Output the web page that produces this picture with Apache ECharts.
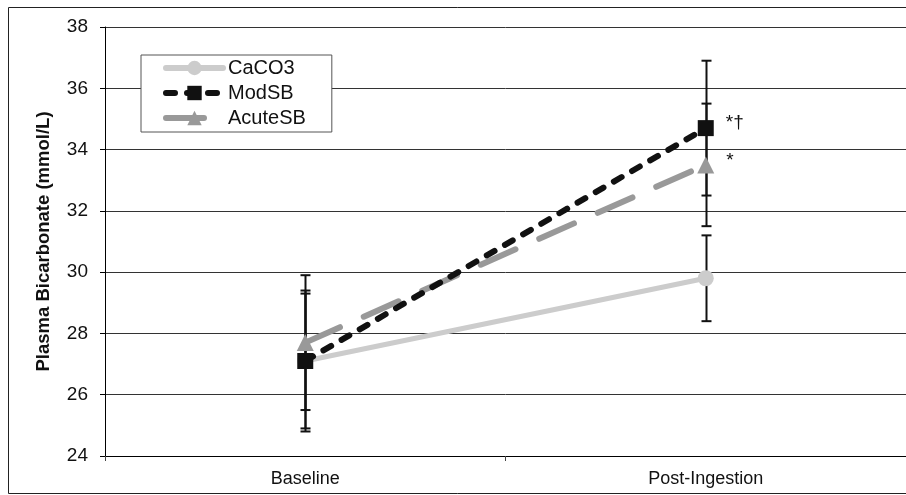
<!DOCTYPE html>
<html>
<head>
<meta charset="utf-8">
<script src="https://cdn.jsdelivr.net/npm/echarts@6/dist/echarts.min.js"></script>
<style>html,body{margin:0;padding:0;background:#fff}#c{width:906px;height:495px}</style>
</head>
<body>
<div id="c"></div>
<script>
var categories = ['Baseline', 'Post-Ingestion'];
var yTicks = [24, 26, 28, 30, 32, 34, 36, 38];
var caco3 = [27.1, 29.8];
var caco3Err = [2.3, 1.4];
var modsb = [27.1, 34.7];
var modsbErr = [2.2, 2.2];
var acutesb = [27.7, 33.5];
var acutesbErr = [2.2, 2.0];
var modsbMark = ['', '*\u2020'];
var acutesbMark = ['', '*'];

var FONT = 'Liberation Sans, Arial, sans-serif';
var chart = echarts.init(document.getElementById('c'), null, {renderer: 'canvas'});

function errSeries(name, vals, errs) {
  var data = vals.map(function (v, i) { return [i, v - errs[i], v + errs[i]]; });
  return {
    type: 'custom',
    name: name + '_err',
    z: 1,
    silent: true,
    data: data,
    encode: {x: 0, y: [1, 2]},
    renderItem: function (params, api) {
      var lo = api.coord([api.value(0), api.value(1)]);
      var hi = api.coord([api.value(0), api.value(2)]);
      var x = Math.round(lo[0]) + 0.5;
      var w = 5;
      var st = {stroke: '#111', lineWidth: 2};
      return {
        type: 'group',
        children: [
          {type: 'line', shape: {x1: x, y1: lo[1], x2: x, y2: hi[1]}, style: st},
          {type: 'line', shape: {x1: x - w, y1: lo[1], x2: x + w, y2: lo[1]}, style: st},
          {type: 'line', shape: {x1: x - w, y1: hi[1], x2: x + w, y2: hi[1]}, style: st}
        ]
      };
    }
  };
}

function markData(vals, marks, dy) {
  return vals.map(function (v, i) {
    if (!marks[i]) return v;
    return {value: v, label: {show: true, formatter: marks[i], position: 'right', distance: 12,
      offset: [0, dy], color: '#111', fontSize: 19, fontFamily: FONT}};
  });
}

var option = {
  animation: false,
  backgroundColor: '#fff',
  grid: {left: 105, right: -3, top: 27, bottom: 39},
  xAxis: {
    type: 'category',
    data: categories,
    boundaryGap: true,
    axisLine: {lineStyle: {color: '#000', width: 1}},
    axisTick: {show: true, length: 5, lineStyle: {color: '#444'}},
    axisLabel: {color: '#111', fontSize: 18, fontFamily: FONT, margin: 14}
  },
  yAxis: {
    type: 'value',
    min: yTicks[0],
    max: yTicks[yTicks.length - 1],
    interval: 2,
    name: 'Plasma Bicarbonate (mmol/L)',
    nameLocation: 'middle',
    nameGap: 52,
    nameTextStyle: {color: '#111', fontSize: 18.5, fontWeight: 'bold', fontFamily: FONT},
    axisLine: {show: true, lineStyle: {color: '#000', width: 1}},
    axisTick: {show: true, length: 5, lineStyle: {color: '#000'}},
    axisLabel: {color: '#111', fontSize: 19, fontFamily: FONT, margin: 17},
    splitLine: {show: true, lineStyle: {color: '#333', width: 1}}
  },
  legend: {
    orient: 'vertical',
    left: 141,
    top: 55,
    padding: [3, 26, 4, 22],
    itemGap: 5,
    itemWidth: 57,
    itemHeight: 18,
    backgroundColor: '#fff',
    borderColor: '#555',
    borderWidth: 1,
    borderRadius: 0,
    lineStyle: {width: 6},
    textStyle: {color: '#111', fontSize: 20, fontFamily: FONT, padding: [0, 0, 0, 0]},
    data: ['CaCO3', 'ModSB', 'AcuteSB']
  },
  graphic: [{
    type: 'rect',
    shape: {x: 8.5, y: 7.5, width: 1000, height: 486},
    style: {fill: 'none', stroke: '#222', lineWidth: 1},
    z: 100,
    silent: true
  }],
  series: [
    errSeries('CaCO3', caco3, caco3Err),
    errSeries('ModSB', modsb, modsbErr),
    errSeries('AcuteSB', acutesb, acutesbErr),
    {
      name: 'CaCO3', type: 'line', z: 3,
      data: caco3,
      symbol: 'circle', symbolSize: 16,
      itemStyle: {color: '#cccccc'},
      lineStyle: {color: '#cccccc', width: 5, cap: 'round'}
    },
    {
      name: 'AcuteSB', type: 'line', z: 4,
      data: markData(acutesb, acutesbMark, -4),
      symbol: 'triangle', symbolSize: 17,
      itemStyle: {color: '#999999'},
      lineStyle: {color: '#999999', width: 6, type: [38, 26], cap: 'round'}
    },
    {
      name: 'ModSB', type: 'line', z: 5,
      data: markData(modsb, modsbMark, -5),
      symbol: 'rect', symbolSize: 16,
      itemStyle: {color: '#111111'},
      lineStyle: {color: '#111111', width: 6, type: [9, 12], cap: 'round'}
    }
  ]
};
chart.setOption(option);
</script>
</body>
</html>
